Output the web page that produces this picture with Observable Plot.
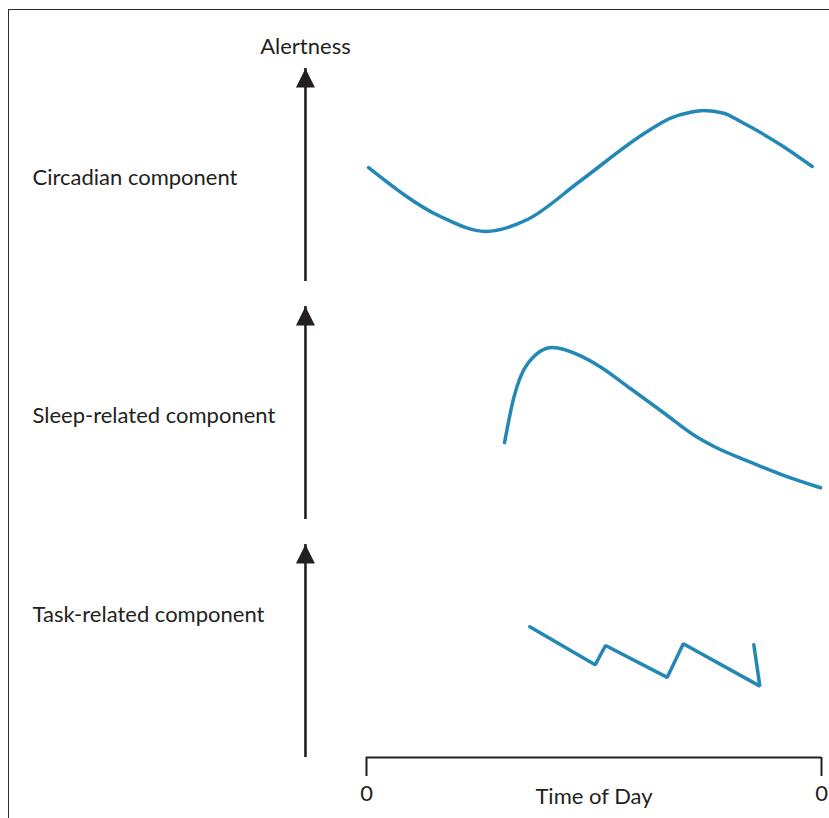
<!DOCTYPE html>
<html>
<head>
<meta charset="utf-8">
<script src="https://cdn.jsdelivr.net/npm/d3@7"></script>
<script src="https://cdn.jsdelivr.net/npm/@observablehq/plot@0.6"></script>
<style>
  html, body { margin: 0; padding: 0; background: #fff; }
  #wrap { position: relative; width: 829px; height: 818px; overflow: hidden; }
  #border { position: absolute; left: 8px; top: 9px; width: 900px; height: 900px;
            border-left: 1.6px solid #2b2b2b; border-top: 1.6px solid #2b2b2b; pointer-events: none; }
  #wrap svg { position: absolute; left: 0; top: 0; }
</style>
</head>
<body>
<div id="wrap"><div id="border"></div></div>
<script>
// Components (one facet row each)
const components = ["Circadian component", "Sleep-related component", "Task-related component"];
const axisTitle = "Alertness";
const timeLabel = "Time of Day";
const timeTicks = [0, 24];
const timeTickLabels = ["0", "0"];

// Circadian component: hour of day vs alertness level (0–10)
const circadianHour  = [0.11, 3.90, 6.28, 8.49, 11.29, 14.81, 16.04, 17.09, 17.79, 18.85, 19.73, 21.84, 23.51];
const circadianLevel = [5.35, 3.05, 2.35, 2.91, 4.73, 7.04, 7.67, 7.95, 8.03, 7.90, 7.51, 6.42, 5.40];

// Sleep-related component
const sleepHour  = [7.28, 7.77, 8.48, 9.80, 11.29, 12.34, 13.92, 15.69, 17.45, 18.33, 20.09, 21.85, 23.95];
const sleepLevel = [3.61, 5.72, 7.29, 8.07, 7.68, 7.16, 6.15, 5.00, 3.86, 3.43, 2.75, 2.12, 1.49];

// Task-related component
const taskHour  = [8.61, 12.06, 12.61, 15.86, 16.71, 20.75, 20.43];
const taskLevel = [6.14, 4.35, 5.26, 3.76, 5.34, 3.35, 5.29];

// Label level of each component name
const labelLevel = [4.84, 4.86, 6.67];

const levelTop = 10;
const arrowHour = -3.22;

const series = [
  {name: components[0], hour: circadianHour, level: circadianLevel},
  {name: components[1], hour: sleepHour, level: sleepLevel},
  {name: components[2], hour: taskHour, level: taskLevel}
];
const lineData = series.flatMap(s => s.hour.map((h, i) => ({component: s.name, hour: h, level: s.level[i]})));
const arrows = components.map(c => ({component: c, y1: 0, y2: levelTop}));
const labels = components.map((c, i) => ({component: c, text: c, level: labelLevel[i]}));

const ink = "#231f20";
const blue = "#2388b5";
const font = 22;

const headSymbol = {
  draw(context) {
    context.moveTo(0, 0);
    context.lineTo(9.5, 19);
    context.lineTo(-9.5, 19);
    context.closePath();
  }
};

const chart = Plot.plot({
  width: 829,
  height: 818,
  marginTop: 67,
  marginBottom: 61,
  marginLeft: 32,
  marginRight: 8,
  style: {fontFamily: "Lato, 'Open Sans', sans-serif", fontSize: font + "px", color: ink, background: "transparent"},
  x: {domain: [0, 24], range: [366, 821]},
  y: {domain: [0, levelTop], axis: null},
  fy: {domain: components, axis: null, paddingInner: 0.107, paddingOuter: 0},
  marks: [
    Plot.ruleX(arrows, {x: arrowHour, y1: "y1", y2: "y2", fy: "component", stroke: ink, strokeWidth: 2.6}),
    Plot.dot(arrows, {x: arrowHour, y: "y2", fy: "component", symbol: headSymbol, fill: ink, stroke: "none"}),
    Plot.text([{component: components[0]}], {x: arrowHour, y: levelTop, fy: "component", text: () => axisTitle, dy: -22, fontSize: font, fill: ink}),
    Plot.text(labels, {frameAnchor: "left", y: "level", fy: "component", text: "text", textAnchor: "start", fontSize: font, fill: ink}),
    Plot.line(lineData.filter(d => d.component === components[0]), {x: "hour", y: "level", fy: "component", stroke: blue, strokeWidth: 3.5, curve: "monotone-x"}),
    Plot.line(lineData.filter(d => d.component === components[1]), {x: "hour", y: "level", fy: "component", stroke: blue, strokeWidth: 3.5, curve: "monotone-x"}),
    Plot.line(lineData.filter(d => d.component === components[2]), {x: "hour", y: "level", fy: "component", stroke: blue, strokeWidth: 3.5, curve: "linear", strokeLinejoin: "miter"}),
    Plot.ruleY([{component: components[2]}], {y: 0, x1: timeTicks[0], x2: timeTicks[1], fy: "component", stroke: ink, strokeWidth: 2}),
    Plot.axisX({ticks: timeTicks, tickFormat: (d, i) => timeTickLabels[i], tickSize: 19, tickPadding: 9, strokeWidth: 2, stroke: ink, fontSize: font, fill: ink, label: null}),
    Plot.text([{component: components[2]}], {x: (timeTicks[0] + timeTicks[1]) / 2, y: 0, fy: "component", text: () => timeLabel, dy: 39, lineAnchor: "middle", fontSize: font, fill: ink})
  ]
});
document.getElementById("wrap").insertBefore(chart, document.getElementById("border"));
</script>
</body>
</html>
